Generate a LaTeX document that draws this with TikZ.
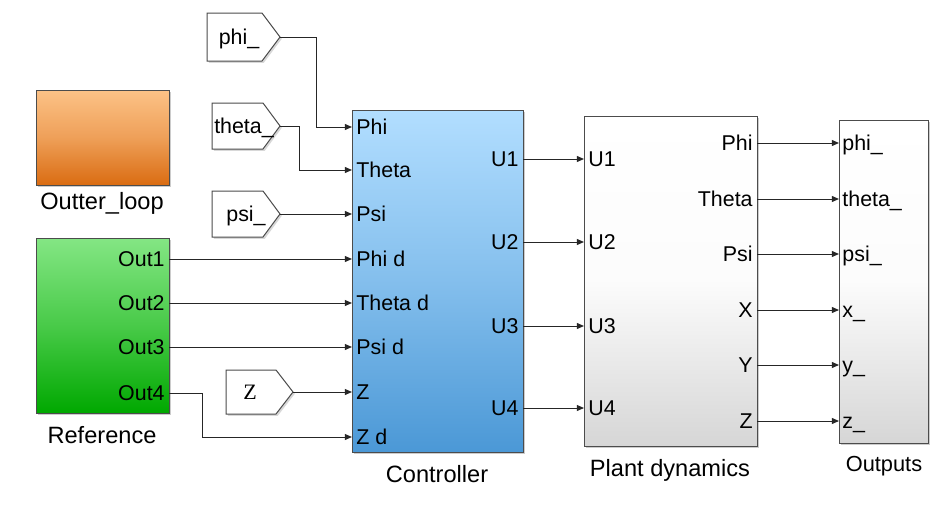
\documentclass[tikz,border=0pt]{standalone}
\usepackage{fontspec}
\setmainfont{Liberation Sans}
\newfontfamily\serifz{Liberation Serif}
\usetikzlibrary{arrows.meta,shadows,fit}
\definecolor{orgtop}{HTML}{FCC287}
\definecolor{orgbot}{HTML}{DA6C12}
\definecolor{grntop}{HTML}{84E684}
\definecolor{grnbot}{HTML}{00A800}
\definecolor{blutop}{HTML}{B2DEFF}
\definecolor{blubot}{HTML}{4B98D6}
\definecolor{gratop}{HTML}{FFFFFF}
\definecolor{grabot}{HTML}{D6D6D6}
\begin{document}
\begin{tikzpicture}[x=0.5pt,y=-0.5pt,
  blk/.style={draw=black!70, line width=0.5pt, inner sep=0pt,
    drop shadow={shadow xshift=0.9pt,shadow yshift=-0.9pt,opacity=0.4}},
  tagbox/.style={draw=black!70, fill=white, line width=0.5pt,
    drop shadow={shadow xshift=0.9pt,shadow yshift=-0.9pt,opacity=0.3}},
  wire/.style={draw=black!85, line width=0.5pt, -{Triangle[length=3.6pt,width=3pt]}},
  port/.style={font=\fontsize{10.7}{12}\selectfont, inner sep=0pt, text height=7.7pt, text depth=0pt},
  title/.style={font=\fontsize{11.8}{13}\selectfont, inner sep=0pt, text height=8.45pt, text depth=0pt}
]
\fill[white] (0,0) rectangle (934,515);
\useasboundingbox (0,0) rectangle (934,515);

% blocks
\node (outer) [blk, fit={(36,90) (169,185)}, top color=orgtop, bottom color=orgbot, middle color=orgtop!60!orgbot] {};
\node (ref) [blk, fit={(36,238) (169,413)}, top color=grntop, bottom color=grnbot, middle color=grntop!55!grnbot] {};
\node (ctrl) [blk, fit={(352,110) (523,452)}, top color=blutop, bottom color=blubot, middle color=blutop!55!blubot] {};
\node (plant) [blk, fit={(584,116) (757,446)}, top color=gratop, bottom color=grabot, middle color=white!92!grabot] {};
\node (outs) [blk, fit={(839,120) (928,443)}, top color=gratop, bottom color=grabot, middle color=white!92!grabot] {};

% titles
\node[title] (tOuter) at (102,201) {Outter\_loop};
\node[title] (tRef) at (102,435) {Reference};
\node[title] (tCtrl) at (437,474) {Controller};
\node[title] (tPlant) at (670,468) {Plant dynamics};
\node[title, font=\fontsize{10.9}{12}\selectfont, text height=7.8pt] (tOuts) at (884,464) {Outputs};

% tags
\draw[tagbox] (207,13) -- (262,13) -- (280,37) -- (262,61) -- (207,61) -- cycle;
\coordinate (phiT) at (280,37);
\node[port] (phiL) at (239,37) {phi\_};
\draw[tagbox] (212,103) -- (263,103) -- (280,126) -- (263,149) -- (212,149) -- cycle;
\coordinate (thetaT) at (280,126);
\node[port] (thetaL) at (244,126) {theta\_};
\draw[tagbox] (212,191) -- (263,191) -- (280,214) -- (263,237) -- (212,237) -- cycle;
\coordinate (psiT) at (280,214);
\node[port] (psiL) at (246,214) {psi\_};
\draw[tagbox] (226,370) -- (276,370) -- (293,392) -- (276,414) -- (226,414) -- cycle;
\coordinate (zT) at (293,392);
\node[port, font=\serifz\fontsize{11}{12}\selectfont] (zL) at (250,392) {Z};

% reference ports
\foreach \n/\y in {1/259,2/303,3/347,4/393}{
  \coordinate (r\n) at (169,\y);
  \node[port, anchor=east] at (165,\y) {Out\n};
}
% controller inputs
\foreach \n/\y/\t in {1/127/Phi,2/170/Theta,3/214/Psi,4/259/Phi d,5/303/Theta d,6/347/Psi d,7/392/Z,8/437/Z d}{
  \coordinate (ci\n) at (352,\y);
  \node[port, anchor=west] at (356,\y) {\t};
}
% controller outputs / plant inputs
\foreach \n/\y in {1/159,2/242,3/326,4/408}{
  \coordinate (co\n) at (523,\y);
  \coordinate (pi\n) at (584,\y);
  \node[port, anchor=east] at (519,\y) {U\n};
  \node[port, anchor=west] at (588,\y) {U\n};
  \draw[wire] (co\n) -- (pi\n);
}
% plant outputs / outputs inputs
\foreach \n/\y/\a/\b in {1/143/Phi/phi\_,2/199/Theta/theta\_,3/254/Psi/psi\_,4/310/X/x\_,5/365/Y/y\_,6/421/Z/z\_}{
  \coordinate (po\n) at (757,\y);
  \coordinate (oi\n) at (839,\y);
  \node[port, anchor=east] at (753,\y) {\a};
  \node[port, anchor=west] at (842,\y) {\b};
  \draw[wire] (po\n) -- (oi\n);
}

% wires into controller
\draw[wire] (phiT) -- (316,37) |- (ci1);
\draw[wire] (thetaT) -- (299,126) |- (ci2);
\draw[wire] (psiT) -- (ci3);
\draw[wire] (r1) -- (ci4);
\draw[wire] (r2) -- (ci5);
\draw[wire] (r3) -- (ci6);
\draw[wire] (zT) -- (ci7);
\draw[wire] (r4) -- (202,393) |- (ci8);
\end{tikzpicture}
\end{document}
